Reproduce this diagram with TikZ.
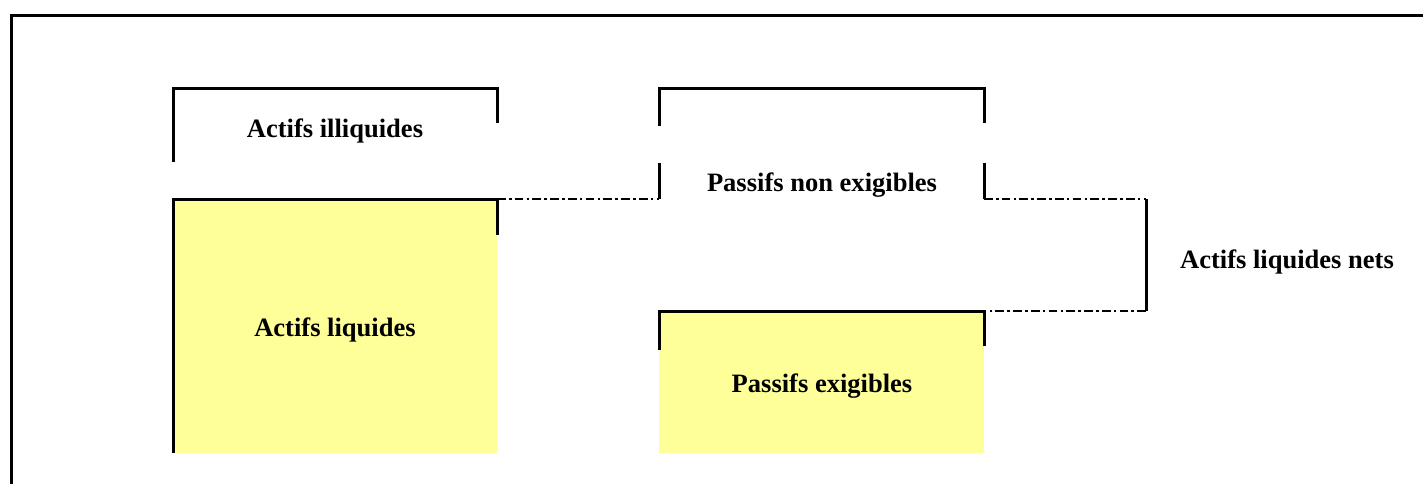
\documentclass[tikz,border=0pt]{standalone}
\usepackage{fontspec}
\setmainfont{Liberation Serif}
\definecolor{liqyellow}{HTML}{FFFF99}
\begin{document}
\begin{tikzpicture}[x=0.75pt,y=-0.75pt,
  frame/.style={line width=2.25pt,line cap=rect},
  bracket/.style={line width=2.25pt},
  dashdot/.style={line width=1.6pt,dash pattern=on 6.5pt off 2.4pt on 2pt off 2.4pt},
  lbl/.style={font=\fontsize{19.9}{24}\selectfont\bfseries,inner sep=0pt}]
\useasboundingbox (0,0) rectangle (1423,483);
% outer frame
\draw[frame] (11,483) -- (11,15) -- (1423,15);
% yellow fills
\fill[liqyellow] (173,199) rectangle (497,453);
\fill[liqyellow] (659,311) rectangle (984,453);
% Actifs illiquides bracket
\draw[bracket] (173,162) -- (173,88) -- (497,88) -- (497,123);
% Actifs liquides box
\draw[bracket] (173,453) -- (173,199) -- (497,199) -- (497,235);
% Passifs non exigibles bracket
\draw[bracket] (659,126) -- (659,88) -- (984,88) -- (984,123);
\draw[bracket] (659,163) -- (659,199);
\draw[bracket] (984,163) -- (984,199);
% Passifs exigibles box
\draw[bracket] (659,350) -- (659,311) -- (984,311) -- (984,346);
% coordinates
\coordinate (la) at (497,199);
\coordinate (lb) at (659,199);
\coordinate (ra) at (984,199);
\coordinate (rb) at (1146,199);
\coordinate (rc) at (1146,311);
\coordinate (rd) at (984,311);
% dash-dot connectors
\draw[dashdot] (la) -- (lb);
\draw[dashdot] (ra) -- (rb);
\draw[dashdot] (rc) -- (rd);
\draw[bracket] (rb) -- (rc);
% labels
\node[lbl] (ill) at (335,131) {Actifs illiquides};
\node[lbl] (liq) at (335,330) {Actifs liquides};
\node[lbl] (pne) at (822,185) {Passifs non exigibles};
\node[lbl] (pex) at (822,386) {Passifs exigibles};
\node[lbl] (aln) at (1287,262) {Actifs liquides nets};
\end{tikzpicture}
\end{document}
